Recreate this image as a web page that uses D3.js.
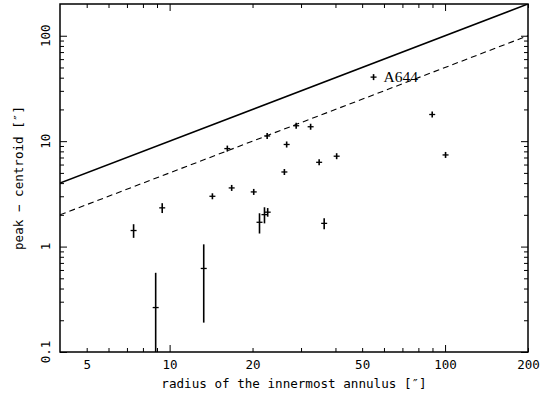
<!DOCTYPE html>
<html lang="en">
  <head>
    <meta charset="UTF-8" />
    <title>peak - centroid</title>
    <script src="https://cdn.jsdelivr.net/npm/d3@7"></script>
    <style>
      body {
        margin: 0;
        padding: 0;
        background: #fff;
      }
      svg text {
        font-family: "DejaVu Sans Mono", "Liberation Mono", monospace;
        fill: #000;
      }
    </style>
  </head>
  <body>
    <svg id="chart" width="540" height="400"></svg>
    <script>
      // radius of the innermost annulus (arcsec)
      const radius = [7.4, 9.4, 8.9, 13.3, 16.2, 22.6, 28.8, 32.5, 26.6, 26.1, 34.9,
        40.4, 55.0, 89.8, 100.4, 14.3, 16.8, 20.2, 21.2, 22.1, 22.7, 36.4];
      // peak - centroid offset (arcsec)
      const offset = [1.42, 2.33, 0.264, 0.62, 8.5, 11.2, 14.0, 13.7, 9.3, 5.1, 6.3,
        7.2, 40.5, 17.9, 7.4, 3.0, 3.6, 3.3, 1.7, 2.01, 2.12, 1.66];
      const offsetErr = [0.21, 0.25, 0.3, 0.43, 0.5, 0.7, 0.8, 0.8, 0.6, 0.3, 0.4,
        0.45, 2.0, 1.0, 0.45, 0.18, 0.22, 0.2, 0.37, 0.35, 0.2, 0.2];
      const labelled = { 12: "A644" };

      const xLabels = [5, 10, 20, 50, 100, 200];
      const yLabels = [0.1, 1, 10, 100];
      const xMajor = [10, 100];
      const xMinor = [5, 6, 7, 8, 9, 20, 30, 40, 50, 60, 70, 80, 90, 200];
      const yMajor = [0.1, 1, 10, 100];
      const yMinor = [0.2, 0.3, 0.4, 0.5, 0.6, 0.7, 0.8, 0.9, 2, 3, 4, 5, 6, 7, 8, 9,
        20, 30, 40, 50, 60, 70, 80, 90];
      // reference lines: y = x and y = x / 2
      const lineFactors = [1, 0.5];

      const box = { left: 60, right: 528, top: 4, bottom: 352 };

      const svg = d3.select("#chart");
      const x = d3.scaleLog().domain([4, 200]).range([box.left, box.right]);
      const y = d3.scaleLog().domain([0.1, 200]).range([box.bottom, box.top]);

      svg.append("clipPath").attr("id", "clip")
        .append("rect")
        .attr("x", box.left).attr("y", box.top)
        .attr("width", box.right - box.left).attr("height", box.bottom - box.top);

      // ticks (inward on all four sides)
      function ticks(gen, pos, vals, len) {
        const g = svg.append("g").attr("transform", pos)
          .call(gen.tickValues(vals).tickSize(len).tickFormat(""));
        g.select(".domain").remove();
        g.selectAll("line").attr("stroke", "#000").attr("stroke-width", 1);
      }
      ticks(d3.axisBottom(x), `translate(0,${box.bottom})`, xMajor, -7);
      ticks(d3.axisBottom(x), `translate(0,${box.bottom})`, xMinor, -4);
      ticks(d3.axisTop(x), `translate(0,${box.top})`, xMajor, -7);
      ticks(d3.axisTop(x), `translate(0,${box.top})`, xMinor, -4);
      ticks(d3.axisLeft(y), `translate(${box.left},0)`, yMajor, -7);
      ticks(d3.axisLeft(y), `translate(${box.left},0)`, yMinor, -4);
      ticks(d3.axisRight(y), `translate(${box.right},0)`, yMajor, -7);
      ticks(d3.axisRight(y), `translate(${box.right},0)`, yMinor, -4);

      // tick labels
      const xl = svg.append("g").attr("transform", `translate(0,${box.bottom})`)
        .call(d3.axisBottom(x).tickValues(xLabels).tickSize(0).tickPadding(8)
          .tickFormat(d3.format("")));
      xl.select(".domain").remove();
      xl.selectAll("text")
        .style("font-size", "12.5px")
        .style("font-family", "'DejaVu Sans Mono', monospace")
        .attr("fill", "#000");

      svg.append("g").selectAll("text")
        .data(yLabels)
        .enter()
        .append("text")
        .attr("transform", (d) => `translate(50,${y(d)}) rotate(-90)`)
        .attr("text-anchor", "middle")
        .style("font-size", "12.5px")
        .text((d) => d);

      // axis titles
      svg.append("text")
        .attr("x", (box.left + box.right) / 2)
        .attr("y", 388)
        .attr("text-anchor", "middle")
        .style("font-size", "12.6px")
        .text("radius of the innermost annulus [\u2033]");

      svg.append("text")
        .attr("transform", `translate(23,${(box.top + box.bottom) / 2}) rotate(-90)`)
        .attr("text-anchor", "middle")
        .style("font-size", "12.6px")
        .text("peak \u2212 centroid [\u2033]");

      const plot = svg.append("g").attr("clip-path", "url(#clip)");

      // reference lines
      plot.selectAll(".ref")
        .data(lineFactors)
        .enter()
        .append("line")
        .attr("x1", x(4))
        .attr("y1", (k) => y(4 * k))
        .attr("x2", x(200))
        .attr("y2", (k) => y(200 * k))
        .attr("stroke", "#000")
        .attr("stroke-width", (k) => (k === 1 ? 1.6 : 1.1))
        .attr("stroke-dasharray", (k) => (k === 1 ? null : "6,4"));

      // points with error bars
      const pts = radius.map((r, i) => ({ r: r, v: offset[i], e: offsetErr[i], i: i }));

      plot.selectAll(".err")
        .data(pts)
        .enter()
        .append("line")
        .attr("x1", (d) => x(d.r))
        .attr("x2", (d) => x(d.r))
        .attr("y1", (d) => Math.max(y(d.v) + 3, d.v - d.e > 0 ? y(d.v - d.e) : box.bottom + 5))
        .attr("y2", (d) => Math.min(y(d.v) - 3, y(d.v + d.e)))
        .attr("stroke", "#000")
        .attr("stroke-width", 1.6);

      plot.selectAll(".bar")
        .data(pts)
        .enter()
        .append("line")
        .attr("x1", (d) => x(d.r) - 3)
        .attr("x2", (d) => x(d.r) + 3)
        .attr("y1", (d) => y(d.v))
        .attr("y2", (d) => y(d.v))
        .attr("stroke", "#000")
        .attr("stroke-width", 1.3);

      svg.selectAll(".lab")
        .data(pts.filter((d) => labelled[d.i]))
        .enter()
        .append("text")
        .attr("x", (d) => x(d.r) + 10)
        .attr("y", (d) => y(d.v) + 5)
        .style("font-family", "'Liberation Serif', serif")
        .style("font-size", "15.5px")
        .text((d) => labelled[d.i]);

      // frame
      svg.append("rect")
        .attr("x", box.left).attr("y", box.top)
        .attr("width", box.right - box.left).attr("height", box.bottom - box.top)
        .attr("fill", "none")
        .attr("stroke", "#000")
        .attr("stroke-width", 1.5);
    </script>
  </body>
</html>
